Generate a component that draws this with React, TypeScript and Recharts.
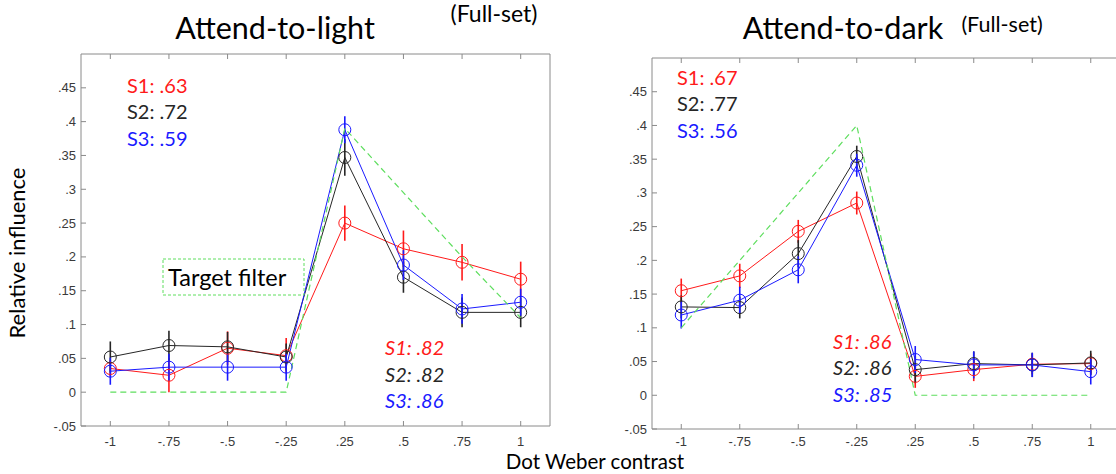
import React from 'react'
import { LineChart, Line, XAxis, YAxis, ErrorBar } from 'recharts'

const contrastLabels = ['-1', '-.75', '-.5', '-.25', '.25', '.5', '.75', '1']
const xTicks = [0, 1, 2, 3, 4, 5, 6, 7]
const yTicks = [-0.05, 0, 0.05, 0.1, 0.15, 0.2, 0.25, 0.3, 0.35, 0.4, 0.45]
const yTickLabels = ['-.05', '0', '.05', '.1', '.15', '.2', '.25', '.3', '.35', '.4', '.45']

// Attend-to-light
const lightS1 = [0.035, 0.025, 0.065, 0.054, 0.25, 0.212, 0.192, 0.167]
const lightS1Err = [0.012, 0.025, 0.025, 0.026, 0.026, 0.027, 0.027, 0.026]
const lightS2 = [0.052, 0.069, 0.067, 0.052, 0.347, 0.17, 0.118, 0.118]
const lightS2Err = [0.023, 0.022, 0.022, 0.02, 0.027, 0.023, 0.022, 0.022]
const lightS3 = [0.031, 0.037, 0.037, 0.037, 0.388, 0.188, 0.123, 0.133]
const lightS3Err = [0.02, 0.02, 0.02, 0.02, 0.02, 0.022, 0.022, 0.02]
const lightTarget = [0, 0, 0, 0, 0.39, 0.295, 0.2, 0.11]

// Attend-to-dark
const darkS1 = [0.155, 0.177, 0.243, 0.285, 0.028, 0.038, 0.046, 0.047]
const darkS1Err = [0.018, 0.018, 0.017, 0.017, 0.017, 0.017, 0.015, 0.015]
const darkS2 = [0.131, 0.13, 0.21, 0.354, 0.038, 0.047, 0.045, 0.048]
const darkS2Err = [0.017, 0.016, 0.02, 0.016, 0.02, 0.018, 0.018, 0.018]
const darkS3 = [0.119, 0.141, 0.186, 0.341, 0.053, 0.045, 0.045, 0.035]
const darkS3Err = [0.02, 0.02, 0.02, 0.017, 0.02, 0.02, 0.018, 0.019]
const darkTarget = [0.1, 0.2, 0.3, 0.4, 0, 0, 0, 0]

const RED = '#ff1a1a'
const BLACK = '#262626'
const BLUE = '#1a1aff'
const GREEN = '#5ede5e'
const AXIS = '#8a8a8a'
const TICK_TEXT = '#3a3a3a'
const TEXT_FONT = 'Lato, "Open Sans", sans-serif'
const TICK_FONT = '"Liberation Sans", Arial, sans-serif'

function buildRows(
  s1: number[], s1e: number[], s2: number[], s2e: number[],
  s3: number[], s3e: number[], target: number[],
) {
  return contrastLabels.map((_, i) => ({
    i,
    s1: s1[i], s1e: s1e[i],
    s2: s2[i], s2e: s2e[i],
    s3: s3[i], s3e: s3e[i],
    target: target[i],
  }))
}

const lightRows = buildRows(lightS1, lightS1Err, lightS2, lightS2Err, lightS3, lightS3Err, lightTarget)
const darkRows = buildRows(darkS1, darkS1Err, darkS2, darkS2Err, darkS3, darkS3Err, darkTarget)

// ticks point inward like the matlab box
const makeBottomTick = (labelOffset: number) => (props: any) => {
  const { x, y, payload } = props
  return (
    <g>
      <line x1={x} x2={x} y1={y} y2={y - 5} stroke={AXIS} />
      <text x={x} y={y + labelOffset} textAnchor="middle" fontSize={13} fill={TICK_TEXT} fontFamily={TICK_FONT}>
        {contrastLabels[payload.value]}
      </text>
    </g>
  )
}

const TopTick = (props: any) => {
  const { x, y } = props
  return <line x1={x} x2={x} y1={y} y2={y + 5} stroke={AXIS} />
}

const LeftTick = (props: any) => {
  const { x, y, payload } = props
  const idx = yTicks.findIndex((t) => Math.abs(t - payload.value) < 1e-9)
  return (
    <g>
      <line x1={x} x2={x + 5} y1={y} y2={y} stroke={AXIS} />
      <text x={x - 5} y={y + 4.5} textAnchor="end" fontSize={13} fill={TICK_TEXT} fontFamily={TICK_FONT}>
        {yTickLabels[idx]}
      </text>
    </g>
  )
}

const RightTick = (props: any) => {
  const { x, y } = props
  return <line x1={x} x2={x - 5} y1={y} y2={y} stroke={AXIS} />
}

type PanelProps = {
  rows: ReturnType<typeof buildRows>
  width: number
  margin: { top: number; right: number; bottom: number; left: number }
  labelOffset: number
}

function Panel({ rows, width, margin, labelOffset }: PanelProps) {
  const series = [
    { key: 's1', err: 's1e', color: RED },
    { key: 's2', err: 's2e', color: BLACK },
    { key: 's3', err: 's3e', color: BLUE },
  ]
  return (
    <LineChart width={width} height={474} data={rows} margin={margin}>
      <XAxis
        dataKey="i" type="number" domain={[-0.5, 7.5]} ticks={xTicks}
        height={20} tickSize={0} tickMargin={0} tickLine={false}
        axisLine={{ stroke: AXIS }} tick={makeBottomTick(labelOffset)} interval={0}
      />
      <XAxis
        xAxisId="top" orientation="top" dataKey="i" type="number" domain={[-0.5, 7.5]} ticks={xTicks}
        height={1} tickSize={0} tickMargin={0} tickLine={false}
        axisLine={{ stroke: AXIS }} tick={TopTick} interval={0}
      />
      <YAxis
        type="number" domain={[-0.05, 0.5]} ticks={yTicks} width={30}
        tickSize={0} tickMargin={0} tickLine={false}
        axisLine={{ stroke: AXIS }} tick={LeftTick} interval={0}
      />
      <YAxis
        yAxisId="right" orientation="right" type="number" domain={[-0.05, 0.5]} ticks={yTicks} width={1}
        tickSize={0} tickMargin={0} tickLine={false}
        axisLine={{ stroke: AXIS }} tick={RightTick} interval={0}
      />
      {series.map((s) => (
        <Line
          key={s.key}
          type="linear"
          dataKey={s.key}
          stroke={s.color}
          strokeWidth={1}
          dot={{ r: 6, fill: 'none', stroke: s.color, strokeWidth: 1 }}
          activeDot={false}
          isAnimationActive={false}
        >
          <ErrorBar dataKey={s.err} direction="y" width={0} stroke={s.color} strokeWidth={1.6} isAnimationActive={false} />
        </Line>
      ))}
      <Line
        type="linear"
        dataKey="target"
        stroke={GREEN}
        strokeWidth={1.2}
        strokeDasharray="6 4"
        dot={false}
        activeDot={false}
        isAnimationActive={false}
      />
    </LineChart>
  )
}

function ScoreText({ x, y, values, italic }: { x: number; y: number; values: string[]; italic?: boolean }) {
  const colors = [RED, BLACK, BLUE]
  return (
    <>
      {values.map((v, k) => (
        <text
          key={k}
          x={x}
          y={y + k * 26.5}
          fill={colors[k]}
          fontSize={20}
          fontStyle={italic ? 'italic' : 'normal'}
          fontFamily={TEXT_FONT}
        >
          {`S${k + 1}: ${v}`}
        </text>
      ))}
    </>
  )
}

export default function App() {
  return (
    <div style={{ position: 'absolute', left: 0, top: 0, width: 1116, height: 474, overflow: 'hidden', background: '#fff' }}>
      <div style={{ position: 'absolute', left: 0, top: 0 }}>
        <Panel rows={lightRows} width={600} margin={{ top: 53, right: 49, bottom: 28, left: 51 }} labelOffset={20} />
      </div>
      <div style={{ position: 'absolute', left: 600, top: 0 }}>
        <Panel rows={darkRows} width={560} margin={{ top: 57, right: 39, bottom: 25, left: 22 }} labelOffset={17} />
      </div>
      <svg width={1116} height={474} style={{ position: 'absolute', left: 0, top: 0, pointerEvents: 'none' }}>
        <text x={275} y={39} textAnchor="middle" fontSize={30.5} fill="#000" fontFamily={TEXT_FONT}>Attend-to-light</text>
        <text x={494} y={22} textAnchor="middle" fontSize={23} fill="#000" fontFamily={TEXT_FONT}>(Full-set)</text>
        <text x={843} y={39} textAnchor="middle" fontSize={30.5} fill="#000" fontFamily={TEXT_FONT}>Attend-to-dark</text>
        <text x={1002} y={32} textAnchor="middle" fontSize={21.5} fill="#000" fontFamily={TEXT_FONT}>(Full-set)</text>

        <text transform="translate(25, 253) rotate(-90)" textAnchor="middle" fontSize={22} fill="#000" fontFamily={TEXT_FONT}>
          Relative influence
        </text>
        <text x={595} y={469} textAnchor="middle" fontSize={20.5} fill="#000" fontFamily={TEXT_FONT}>Dot Weber contrast</text>

        <ScoreText x={127} y={92.5} values={['.63', '.72', '.59']} />
        <ScoreText x={385} y={355} values={['.82', '.82', '.86']} italic />
        <ScoreText x={677} y={84.5} values={['.67', '.77', '.56']} />
        <ScoreText x={833} y={348.5} values={['.86', '.86', '.85']} italic />

        <rect x={163} y={259} width={141} height={36} fill="none" stroke={GREEN} strokeWidth={1} strokeDasharray="3 2" />
        <text x={168} y={285.5} fontSize={23.5} fill="#000" fontFamily={TEXT_FONT}>Target filter</text>
      </svg>
    </div>
  )
}
